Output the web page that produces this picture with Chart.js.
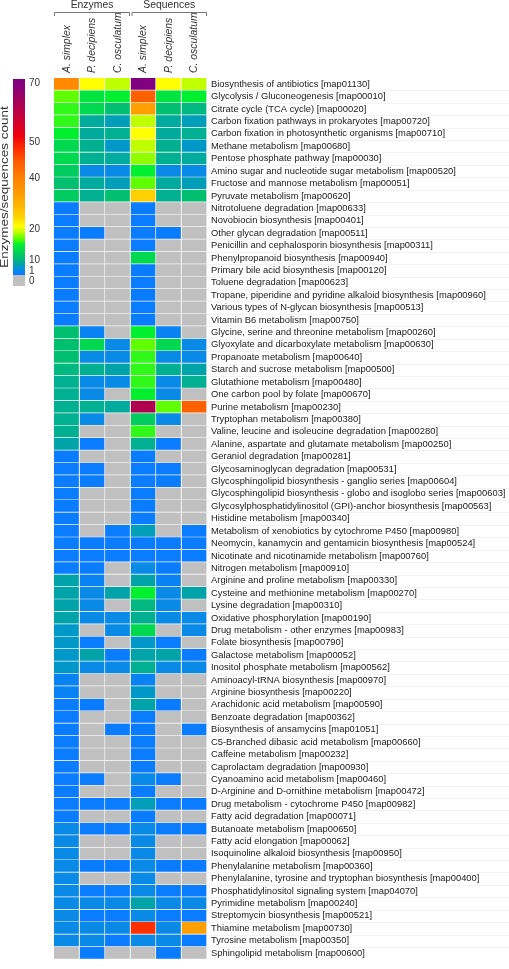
<!DOCTYPE html>
<html>
<head>
<meta charset="utf-8">
<title>KEGG pathway heatmap</title>
<script src="https://cdn.jsdelivr.net/npm/chart.js@4.4.1/dist/chart.umd.min.js"></script>
<style>
  html, body { margin: 0; padding: 0; background: #fff; }
  canvas { display: block; }
</style>
</head>
<body>
<canvas id="heatmap" width="509" height="969"></canvas>
<script>
const pathways = [
  'Biosynthesis of antibiotics [map01130]',
  'Glycolysis / Gluconeogenesis [map00010]',
  'Citrate cycle (TCA cycle) [map00020]',
  'Carbon fixation pathways in prokaryotes [map00720]',
  'Carbon fixation in photosynthetic organisms [map00710]',
  'Methane metabolism [map00680]',
  'Pentose phosphate pathway [map00030]',
  'Amino sugar and nucleotide sugar metabolism [map00520]',
  'Fructose and mannose metabolism [map00051]',
  'Pyruvate metabolism [map00620]',
  'Nitrotoluene degradation [map00633]',
  'Novobiocin biosynthesis [map00401]',
  'Other glycan degradation [map00511]',
  'Penicillin and cephalosporin biosynthesis [map00311]',
  'Phenylpropanoid biosynthesis [map00940]',
  'Primary bile acid biosynthesis [map00120]',
  'Toluene degradation [map00623]',
  'Tropane, piperidine and pyridine alkaloid biosynthesis [map00960]',
  'Various types of N-glycan biosynthesis [map00513]',
  'Vitamin B6 metabolism [map00750]',
  'Glycine, serine and threonine metabolism [map00260]',
  'Glyoxylate and dicarboxylate metabolism [map00630]',
  'Propanoate metabolism [map00640]',
  'Starch and sucrose metabolism [map00500]',
  'Glutathione metabolism [map00480]',
  'One carbon pool by folate [map00670]',
  'Purine metabolism [map00230]',
  'Tryptophan metabolism [map00380]',
  'Valine, leucine and isoleucine degradation [map00280]',
  'Alanine, aspartate and glutamate metabolism [map00250]',
  'Geraniol degradation [map00281]',
  'Glycosaminoglycan degradation [map00531]',
  'Glycosphingolipid biosynthesis - ganglio series [map00604]',
  'Glycosphingolipid biosynthesis - globo and isoglobo series [map00603]',
  'Glycosylphosphatidylinositol (GPI)-anchor biosynthesis [map00563]',
  'Histidine metabolism [map00340]',
  'Metabolism of xenobiotics by cytochrome P450 [map00980]',
  'Neomycin, kanamycin and gentamicin biosynthesis [map00524]',
  'Nicotinate and nicotinamide metabolism [map00760]',
  'Nitrogen metabolism [map00910]',
  'Arginine and proline metabolism [map00330]',
  'Cysteine and methionine metabolism [map00270]',
  'Lysine degradation [map00310]',
  'Oxidative phosphorylation [map00190]',
  'Drug metabolism - other enzymes [map00983]',
  'Folate biosynthesis [map00790]',
  'Galactose metabolism [map00052]',
  'Inositol phosphate metabolism [map00562]',
  'Aminoacyl-tRNA biosynthesis [map00970]',
  'Arginine biosynthesis [map00220]',
  'Arachidonic acid metabolism [map00590]',
  'Benzoate degradation [map00362]',
  'Biosynthesis of ansamycins [map01051]',
  'C5-Branched dibasic acid metabolism [map00660]',
  'Caffeine metabolism [map00232]',
  'Caprolactam degradation [map00930]',
  'Cyanoamino acid metabolism [map00460]',
  'D-Arginine and D-ornithine metabolism [map00472]',
  'Drug metabolism - cytochrome P450 [map00982]',
  'Fatty acid degradation [map00071]',
  'Butanoate metabolism [map00650]',
  'Fatty acid elongation [map00062]',
  'Isoquinoline alkaloid biosynthesis [map00950]',
  'Phenylalanine metabolism [map00360]',
  'Phenylalanine, tyrosine and tryptophan biosynthesis [map00400]',
  'Phosphatidylinositol signaling system [map04070]',
  'Pyrimidine metabolism [map00240]',
  'Streptomycin biosynthesis [map00521]',
  'Thiamine metabolism [map00730]',
  'Tyrosine metabolism [map00350]',
  'Sphingolipid metabolism [map00600]'
];

const columns = ['A. simplex', 'P. decipiens', 'C. osculatum', 'A. simplex', 'P. decipiens', 'C. osculatum'];
const groups = ['Enzymes', 'Sequences'];

// counts per pathway, one array per column (0 = absent)
const enzASimplex = [38,17,16,16,15,13,13,12,11,12, 1,1,1,1,1,1,1,1,1,1, 11,11,11,10,9,9,9,9,9,7,
  1,1,1,1,1,1,1,1,1,1, 7,7,7,7,5,5,5,5,2,2, 1,1,1,1,1,1,1,1,1,1, 3,3,3,3,3,3,3,3,3,3, 0];
const enzPDecipiens = [21,14,13,8,8,9,9,3,8,9, 0,0,1,0,0,0,0,0,0,0, 2,13,3,9,3,3,9,3,0,1,
  0,1,1,0,0,0,0,1,1,1, 2,3,3,3,0,1,7,3,0,0, 1,0,0,0,0,0,1,0,1,0, 1,0,0,1,0,1,3,1,3,3, 1];
const enzCOsculatum = [19,15,11,6,9,5,8,3,6,11, 0,0,0,0,0,0,0,0,0,0, 0,3,3,7,3,0,8,0,0,0,
  0,0,0,0,0,0,1,1,1,0, 0,7,0,3,3,0,1,3,0,0, 0,0,1,0,0,0,0,0,1,0, 1,0,0,1,0,1,3,1,3,1, 0];
const seqASimplex = [70,44,33,19,21,19,18,15,17,25, 1,1,1,1,13,1,1,1,1,1, 15,17,16,16,16,15,62,12,16,9,
  1,1,1,1,1,1,6,1,1,3, 7,15,10,9,13,5,7,9,2,5, 7,1,1,1,1,1,3,1,6,1, 3,3,3,3,3,3,7,3,48,3, 0];
const seqPDecipiens = [21,14,11,8,8,9,9,3,8,9, 0,0,1,0,0,0,0,0,0,0, 2,13,3,9,3,3,17,3,0,1,
  0,1,1,0,0,0,0,1,1,1, 2,3,3,3,0,1,7,3,0,0, 1,0,0,0,0,0,1,0,1,0, 1,0,0,1,0,1,3,1,3,3, 1];
const seqCOsculatum = [19,15,10,6,9,5,8,3,6,11, 0,0,0,0,0,0,0,0,0,0, 0,3,3,7,9,0,44,0,0,0,
  0,0,0,0,0,0,1,1,1,0, 0,7,0,3,3,0,1,3,0,0, 0,0,1,0,0,0,0,0,1,0, 1,0,0,1,0,1,3,1,33,1, 0];

const colorbarTicks = [70, 50, 40, 20, 10, 1, 0];

// colour scale (value -> colour), grey for zero
const colorStops = [
  [1, [10, 124, 255]], [3, [8, 138, 230]], [5, [0, 152, 200]], [7, [0, 163, 168]],
  [9, [0, 176, 144]], [11, [0, 192, 112]], [13, [0, 216, 80]], [15, [0, 240, 48]],
  [17, [96, 255, 0]], [19, [192, 255, 0]], [21, [255, 255, 0]], [25, [255, 208, 0]],
  [33, [255, 160, 0]], [40, [255, 128, 0]], [44, [255, 96, 0]], [48, [255, 48, 0]],
  [52, [240, 0, 16]], [62, [176, 0, 80]], [70, [128, 0, 128]]
];

function heatColor(v) {
  if (v <= 0) return '#c0c0c0';
  if (v <= colorStops[0][0]) return 'rgb(' + colorStops[0][1].join(',') + ')';
  for (let i = 1; i < colorStops.length; i++) {
    const [v1, c1] = colorStops[i];
    const [v0, c0] = colorStops[i - 1];
    if (v <= v1) {
      const t = (v - v0) / (v1 - v0);
      const c = c0.map((x, k) => Math.round(x + (c1[k] - x) * t));
      return 'rgb(' + c.join(',') + ')';
    }
  }
  return 'rgb(' + colorStops[colorStops.length - 1][1].join(',') + ')';
}

const columnValues = [enzASimplex, enzPDecipiens, enzCOsculatum, seqASimplex, seqPDecipiens, seqCOsculatum];

const datasets = columnValues.map((vals, c) => ({
  label: columns[c],
  data: vals.map(() => [c, c + 1]),
  backgroundColor: vals.map(heatColor),
  borderColor: '#f4f4f4',
  borderWidth: { top: 0, left: 0, right: 1, bottom: 1 },
  borderSkipped: false,
  grouped: false,
  barPercentage: 1,
  categoryPercentage: 1
}));

const FONT = '"Liberation Sans", Arial, sans-serif';

// colorbar value -> y pixel
const barMap = [[70, 83], [50, 142], [40, 178], [20, 229], [10, 260], [1, 273]];
function barValueAt(y) {
  if (y <= barMap[0][1]) return 70;
  for (let i = 1; i < barMap.length; i++) {
    const [v1, y1] = barMap[i];
    const [v0, y0] = barMap[i - 1];
    if (y <= y1) return v0 + (v1 - v0) * (y - y0) / (y1 - y0);
  }
  return 1;
}
const tickLabelY = { 70: 83, 50: 142, 40: 178, 20: 229, 10: 260, 1: 271, 0: 281 };

const decor = {
  id: 'decor',
  afterDraw(chart) {
    const ctx = chart.ctx;
    const xs = chart.scales.x;
    const ys = chart.scales.y;
    const area = chart.chartArea;
    const rowH = (area.bottom - area.top) / pathways.length;

    ctx.save();
    // faint row guides across the label area
    ctx.strokeStyle = '#f3f3f3';
    ctx.lineWidth = 1;
    for (let i = 1; i < pathways.length; i++) {
      const y = Math.round(ys.getPixelForValue(i) - rowH / 2) + 0.5;
      ctx.beginPath();
      ctx.moveTo(area.right, y);
      ctx.lineTo(chart.width, y);
      ctx.stroke();
    }

    // column headers
    ctx.fillStyle = '#333';
    ctx.font = 'italic 10.4px ' + FONT;
    ctx.textAlign = 'left';
    ctx.textBaseline = 'middle';
    columns.forEach((name, c) => {
      ctx.save();
      ctx.translate(xs.getPixelForValue(c + 0.5), 73);
      ctx.rotate(-Math.PI / 2);
      ctx.fillText(name, 0, 0);
      ctx.restore();
    });

    // group brackets
    ctx.strokeStyle = '#777';
    ctx.lineWidth = 1;
    ctx.font = '10.4px ' + FONT;
    ctx.textAlign = 'center';
    groups.forEach((g, k) => {
      const x0 = xs.getPixelForValue(k * 3) + (k ? 1.5 : 0.5);
      const x1 = xs.getPixelForValue(k * 3 + 3) - (k ? 0.5 : 1);
      ctx.beginPath();
      ctx.moveTo(x0, 16);
      ctx.lineTo(x0, 12.5);
      ctx.lineTo(x1, 12.5);
      ctx.lineTo(x1, 16);
      ctx.stroke();
      ctx.fillText(g, (x0 + x1) / 2, 5.5);
    });

    // colorbar
    const bx = 13, bw = 12;
    for (let y = 79; y < 275; y++) {
      ctx.fillStyle = heatColor(barValueAt(y + 0.5));
      ctx.fillRect(bx, y, bw, 1);
    }
    ctx.fillStyle = heatColor(0);
    ctx.fillRect(bx, 275, bw, 11);

    ctx.fillStyle = '#333';
    ctx.font = '10px ' + FONT;
    ctx.textAlign = 'left';
    ctx.textBaseline = 'middle';
    colorbarTicks.forEach(t => ctx.fillText(String(t), 29, tickLabelY[t]));

    // colorbar title
    ctx.save();
    ctx.translate(5.5, 187);
    ctx.rotate(-Math.PI / 2);
    ctx.scale(1, 0.75);
    ctx.font = '13.5px ' + FONT;
    ctx.textAlign = 'center';
    ctx.fillText('Enzymes/sequences count', 0, 0);
    ctx.restore();

    ctx.restore();
  }
};

new Chart(document.getElementById('heatmap'), {
  type: 'bar',
  data: { labels: pathways, datasets: datasets },
  options: {
    indexAxis: 'y',
    responsive: false,
    animation: false,
    devicePixelRatio: 1,
    events: [],
    layout: { padding: { left: 54, top: 78, right: 0, bottom: 1 } },
    scales: {
      x: { type: 'linear', min: 0, max: 6, display: false },
      y: {
        type: 'category',
        position: 'right',
        offset: true,
        grid: { display: false, drawTicks: false },
        border: { display: false },
        ticks: {
          autoSkip: false,
          padding: 4,
          color: '#1a1a1a',
          font: { family: FONT, size: 9.4 }
        },
        afterFit(scale) { scale.width = 302; }
      }
    },
    plugins: {
      legend: { display: false },
      tooltip: { enabled: false }
    }
  },
  plugins: [decor]
});
</script>
</body>
</html>
